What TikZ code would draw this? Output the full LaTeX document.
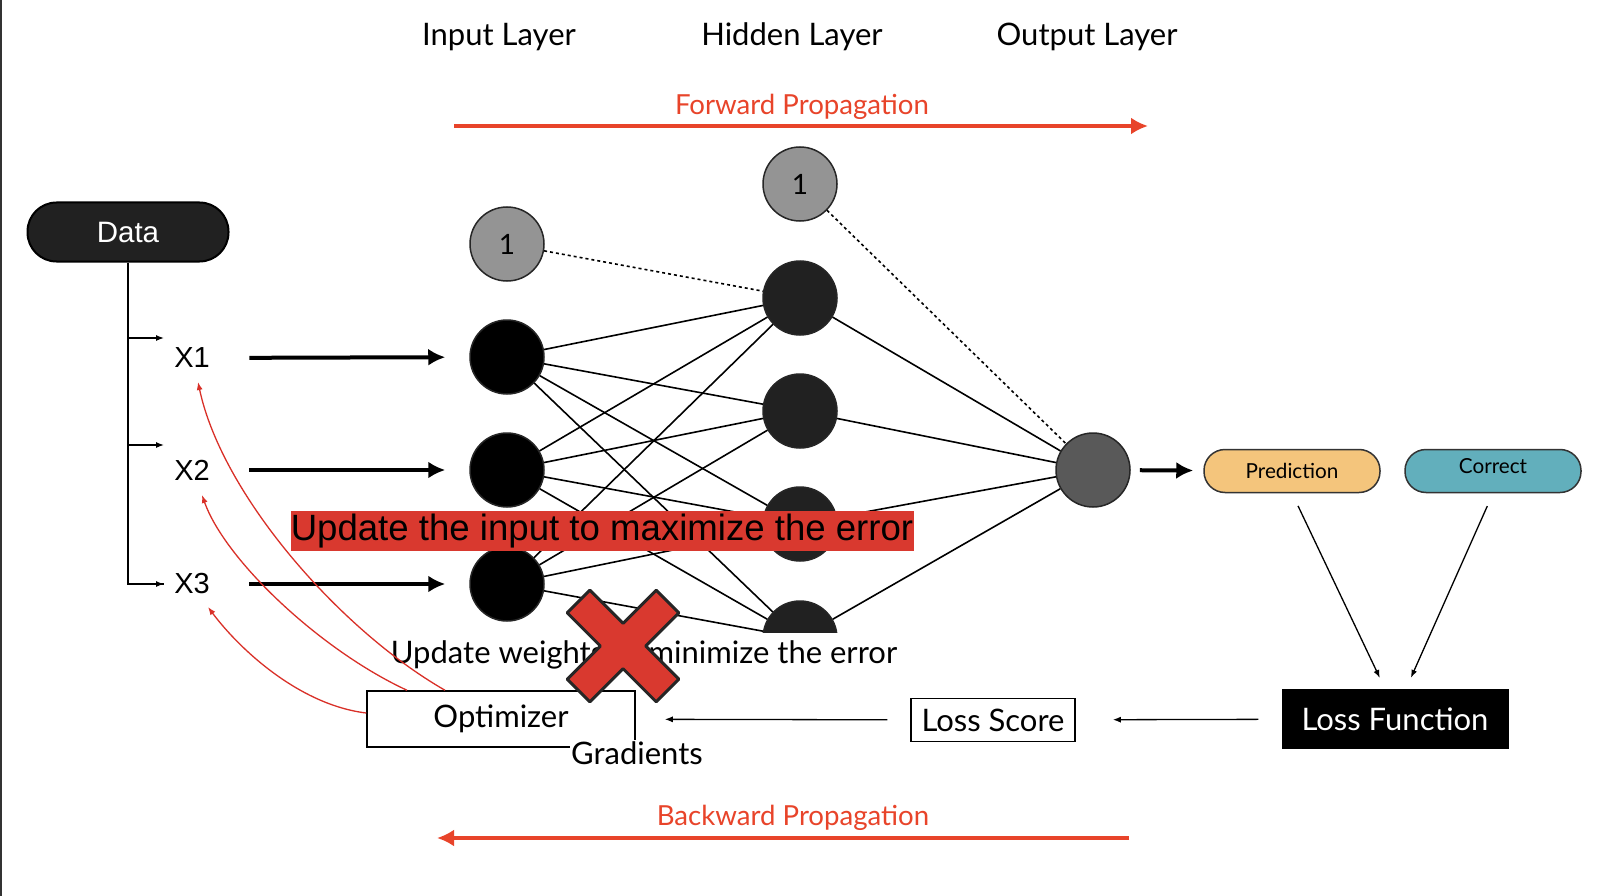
\documentclass[tikz,border=0pt]{standalone}
\usepackage{fontspec}
\setmainfont{Lato}
\newfontfamily\arialfont{Liberation Sans}
\usetikzlibrary{arrows.meta}
\definecolor{propred}{RGB}{232,68,42}
\definecolor{curvered}{RGB}{217,48,40}
\definecolor{bannerred}{RGB}{217,57,47}
\definecolor{predc}{RGB}{244,197,124}
\definecolor{correctc}{RGB}{98,175,188}

\begin{document}
\begin{tikzpicture}[x=1pt,y=-1pt]
    \tikzstyle{neuron} = [circle, draw=black!85, line width=1.5pt, minimum size=74pt, inner sep=0pt]
    \tikzstyle{bias} = [neuron, fill=black!42, font=\fontsize{28}{28}\selectfont]
    \tikzstyle{edge} = [line width=1.6pt]
    \tikzstyle{bigarrow} = [line width=4pt, -{Latex[length=17pt,width=17pt]}]
    \tikzstyle{thinarrow} = [line width=1.3pt, -{Latex[length=8pt,width=6pt]}]
    \tikzstyle{redcurve} = [draw=curvered, line width=1.3pt, -{Latex[length=8pt,width=6pt]}]
    \tikzstyle{heading} = [font=\fontsize{31}{31}\selectfont]
    \tikzstyle{boxtext} = [font=\fontsize{31}{31}\selectfont]
    \tikzstyle{xlabel} = [font=\arialfont\fontsize{29}{29}\selectfont]
    \tikzstyle{pill} = [rectangle, rounded corners=21pt, draw=black!80, line width=1.5pt, minimum width=176pt, minimum height=43pt, font=\fontsize{20.7}{21}\selectfont]

    % frame
    \useasboundingbox (0,0) rectangle (1600,896);
    \fill[white] (0,0) rectangle (1600,896);
    \draw[black!80, line width=2pt] (1,0) -- (1,896);

    % layer names
    \node[heading] (inlayer) at (499,37) {Input Layer};
    \node[heading] (hidlayer) at (792,37) {Hidden Layer};
    \node[heading] (outlayer) at (1087,37) {Output Layer};

    % forward propagation
    \coordinate (fwd1) at (454,126);
    \coordinate (fwd2) at (1148,126);
    \draw[bigarrow, propred] (fwd1) -- (fwd2);
    \node[propred, font=\fontsize{27.6}{28}\selectfont] (fwdtext) at (802,107) {Forward Propagation};

    % data and inputs
    \node[rectangle, rounded corners=29pt, fill=black!87, draw=black, line width=2pt, minimum width=201pt, minimum height=59pt, text=white, font=\arialfont\fontsize{29.5}{30}\selectfont] (data) at (128,232) {Data};
    \node[xlabel] (x1) at (192,358) {X1};
    \node[xlabel] (x2) at (192,470) {X2};
    \node[xlabel] (x3) at (192,584) {X3};
    \coordinate (tip1) at (164,338);
    \coordinate (tip2) at (164,445);
    \coordinate (tip3) at (164,584);
    \draw[line width=1.5pt] (data.south) |- (tip3);
    \draw[thinarrow] (data.south |- tip1) -- (tip1);
    \draw[thinarrow] (data.south |- tip2) -- (tip2);
    \draw[thinarrow] (data.south |- tip3) -- (tip3);

    % neurons
    \node[bias] (b1) at (507,244) {1};
    \node[bias] (b2) at (800,184) {1};
    \node[neuron, fill=black] (in1) at (507,357) {};
    \node[neuron, fill=black] (in2) at (507,470) {};
    \node[neuron, fill=black] (in3) at (507,584) {};
    \node[neuron, fill=black!87] (hid1) at (800,298) {};
    \node[neuron, fill=black!87] (hid2) at (800,411) {};
    \node[neuron, fill=black!87] (hid3) at (800,524) {};
    \node[neuron, fill=black!87] (hid4) at (800,638) {};
    \node[neuron, fill=black!65] (out) at (1093,470) {};

    % inputs into the network
    \draw[bigarrow, shorten <=36pt, shorten >=24pt] (x1) -- (in1);
    \draw[bigarrow, shorten <=36pt, shorten >=24pt] (x2) -- (in2);
    \draw[bigarrow, shorten <=36pt, shorten >=24pt] (x3) -- (in3);

    % weights
    \foreach \i in {1,2,3}
        \foreach \j in {1,...,4}
            \draw[edge] (in\i) -- (hid\j);
    \foreach \j in {1,...,4}
        \draw[edge] (hid\j) -- (out);
    \draw[edge, dash pattern=on 3pt off 3pt] (b1) -- (hid1);
    \draw[edge, dash pattern=on 3pt off 3pt] (b2) -- (out);

    % output side
    \node[pill, fill=predc] (pred) at (1292,471) {Prediction};
    \node[pill, fill=correctc, text depth=10pt] (correct) at (1493,471) {Correct};
    \draw[bigarrow, shorten <=9pt, shorten >=10pt] (out) -- (pred);
    \node[rectangle, fill=black, minimum width=227pt, minimum height=60pt, text=white, boxtext] (lossfn) at (1395,719) {Loss Function};
    \draw[thinarrow, shorten <=14pt, shorten >=12pt] (pred.south) -- ([xshift=-10pt]lossfn.north);
    \draw[thinarrow, shorten <=14pt, shorten >=12pt] (correct.south) -- ([xshift=11pt]lossfn.north);
    \node[rectangle, draw=black, line width=1.5pt, minimum width=164pt, minimum height=43pt, boxtext] (lossscore) at (993,720) {Loss Score};
    \draw[thinarrow, shorten <=23pt, shorten >=37pt] (lossfn) -- (lossscore);
    \node[rectangle, draw=black, line width=1.5pt, minimum width=268pt, minimum height=56pt, boxtext] (optim) at (501,719) {Optimizer};
    \draw[thinarrow, shorten <=23pt, shorten >=29pt] (lossscore) -- (optim);
    \node[fill=white, inner sep=1pt, boxtext] (grad) at (637,753) {Gradients};

    % backward propagation
    \coordinate (bwd1) at (1129,838);
    \coordinate (bwd2) at (437,838);
    \draw[bigarrow, propred] (bwd1) -- (bwd2);
    \node[propred, font=\fontsize{27.6}{28}\selectfont] (bwdtext) at (793,818) {Backward Propagation};

    % notes
    \node[fill=white, inner sep=2pt, minimum height=45pt, boxtext] (weightnote) at (644,655) {Update weights to minimize the error};
    \node[fill=bannerred, inner sep=0pt, minimum width=623pt, minimum height=40pt, font=\arialfont\fontsize{36.6}{37}\selectfont] (banner) at (602,531) {Update the input to maximize the error};

    % cross over the weight note
    \begin{scope}[shift={(623,646)}, rotate=45]
        \draw[fill=bannerred, draw=black!85, line width=3pt, line join=round] (16,16) -- (63,16) -- (63,-16) -- (16,-16) -- (16,-63) -- (-16,-63) -- (-16,-16) -- (-63,-16) -- (-63,16) -- (-16,16) -- (-16,63) -- (16,63) -- cycle;
    \end{scope}

    % optimizer updates the inputs
    \draw[redcurve] ([xshift=-56pt]optim.north) .. controls (340,630) and (222,495) .. ([xshift=6pt,yshift=-24pt]x1.center);
    \draw[redcurve] ([xshift=-94pt]optim.north) .. controls (320,650) and (225,560) .. ([xshift=10pt,yshift=-25pt]x2.center);
    \draw[redcurve] ([yshift=6pt]optim.west) .. controls (300,705) and (240,650) .. ([xshift=16pt,yshift=-23pt]x3.center);
\end{tikzpicture}
\end{document}
